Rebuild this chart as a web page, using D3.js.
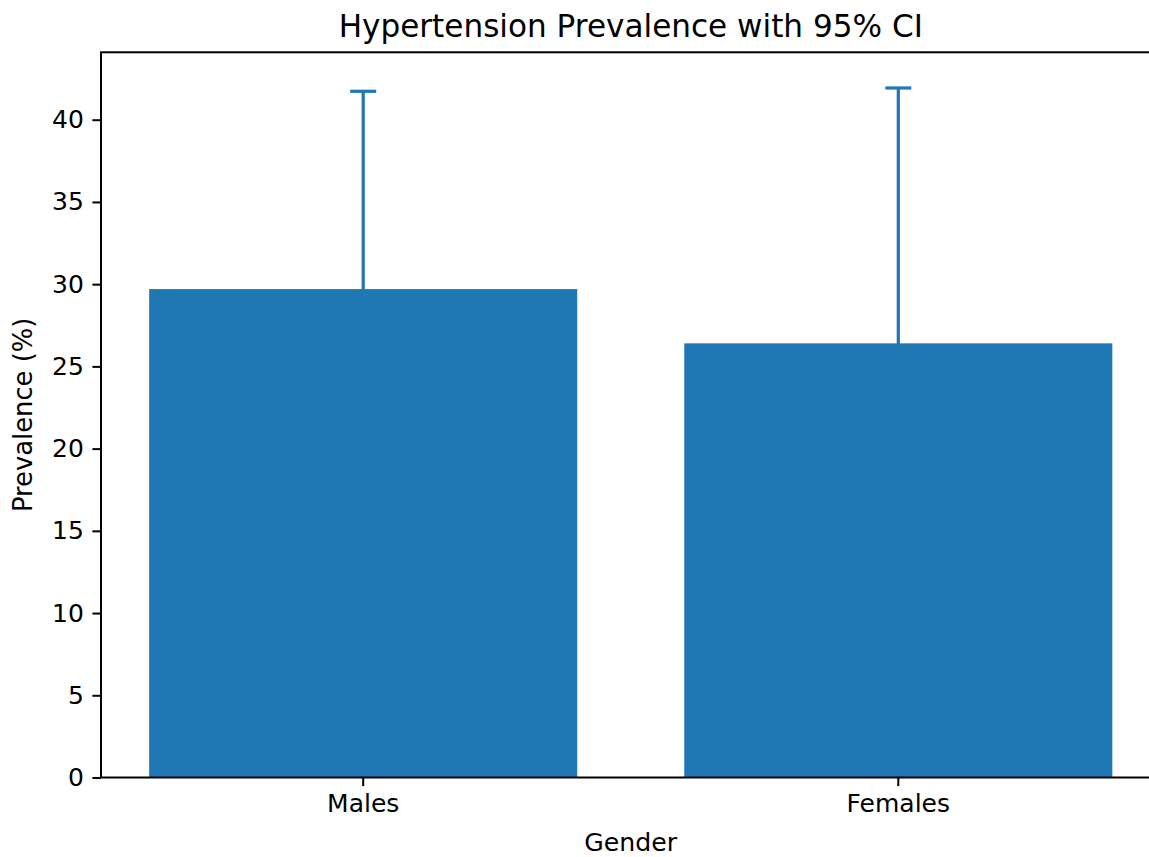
<!DOCTYPE html>
<html>
<head>
<meta charset="utf-8">
<script src="https://cdn.jsdelivr.net/npm/d3@7"></script>
<style>
  html, body { margin: 0; padding: 0; background: #fff; }
  svg { display: block; }
  text { font-family: "DejaVu Sans", sans-serif; fill: #000; }
</style>
</head>
<body>
<svg id="chart" width="1149" height="857"></svg>
<script>
// ---- data ----
const categories = ["Males", "Females"];
const prevalence = [29.7, 26.4];
const ciLower = [17.7, 10.9];
const ciUpper = [41.73, 41.93];
const yTicks = [0, 5, 10, 15, 20, 25, 30, 35, 40];
const titleText = "Hypertension Prevalence with 95% CI";
const xLabelText = "Gender";
const yLabelText = "Prevalence (%)";

// ---- layout ----
const svg = d3.select("#chart");
const plotL = 101, plotR = 1160.5, plotT = 52.3, plotB = 777.5;
const barColor = "#1f77b4";
const fs = 25;

const x = d3.scaleBand().domain(categories).range([plotL, plotR])
  .paddingInner(0.2).paddingOuter(0.09);
const y = d3.scaleLinear().domain([0, 44.1]).range([plotB, plotT]);

// bars
svg.append("g").selectAll("rect").data(categories).join("rect")
  .attr("x", d => x(d))
  .attr("width", x.bandwidth())
  .attr("y", (d, i) => y(prevalence[i]))
  .attr("height", (d, i) => y(0) - y(prevalence[i]))
  .attr("fill", barColor);

// error bars
const cap = 13;
const eg = svg.append("g").attr("stroke", barColor).attr("stroke-width", 3.2).attr("fill", "none");
categories.forEach((c, i) => {
  const cx = x(c) + x.bandwidth() / 2;
  eg.append("line").attr("x1", cx).attr("x2", cx).attr("y1", y(ciLower[i])).attr("y2", y(ciUpper[i]));
  eg.append("line").attr("x1", cx - cap).attr("x2", cx + cap).attr("y1", y(ciUpper[i])).attr("y2", y(ciUpper[i]));
  eg.append("line").attr("x1", cx - cap).attr("x2", cx + cap).attr("y1", y(ciLower[i])).attr("y2", y(ciLower[i]));
});

// axes
const yAxis = d3.axisLeft(y).tickValues(yTicks).tickFormat(d3.format("d"))
  .tickSize(8.6).tickPadding(8.6);
const gy = svg.append("g").attr("transform", `translate(${plotL},0)`).call(yAxis);
gy.select(".domain").remove();
gy.selectAll(".tick line").attr("stroke", "#000").attr("stroke-width", 2);
gy.selectAll(".tick text").attr("font-size", fs).attr("font-family", "DejaVu Sans").attr("fill", "#000");

const xAxis = d3.axisBottom(x).tickSize(8.6).tickPadding(8.6);
const gx = svg.append("g").attr("transform", `translate(0,${plotB})`).call(xAxis);
gx.select(".domain").remove();
gx.selectAll(".tick line").attr("stroke", "#000").attr("stroke-width", 2);
gx.selectAll(".tick text").attr("font-size", fs).attr("font-family", "DejaVu Sans").attr("fill", "#000");

// spines
const sp = svg.append("g").attr("stroke", "#000").attr("stroke-width", 2).attr("fill", "none");
sp.append("rect").attr("x", plotL).attr("y", plotT).attr("width", plotR - plotL).attr("height", plotB - plotT);

// title & labels
svg.append("text").attr("x", (plotL + plotR) / 2).attr("y", 37)
  .attr("text-anchor", "middle").attr("font-size", 31.1).text(titleText);
svg.append("text").attr("x", (plotL + plotR) / 2).attr("y", 851)
  .attr("text-anchor", "middle").attr("font-size", 25.2).text(xLabelText);
svg.append("text").attr("transform", `translate(32,${(plotT + plotB) / 2}) rotate(-90)`)
  .attr("text-anchor", "middle").attr("font-size", 25.8).text(yLabelText);
</script>
</body>
</html>
